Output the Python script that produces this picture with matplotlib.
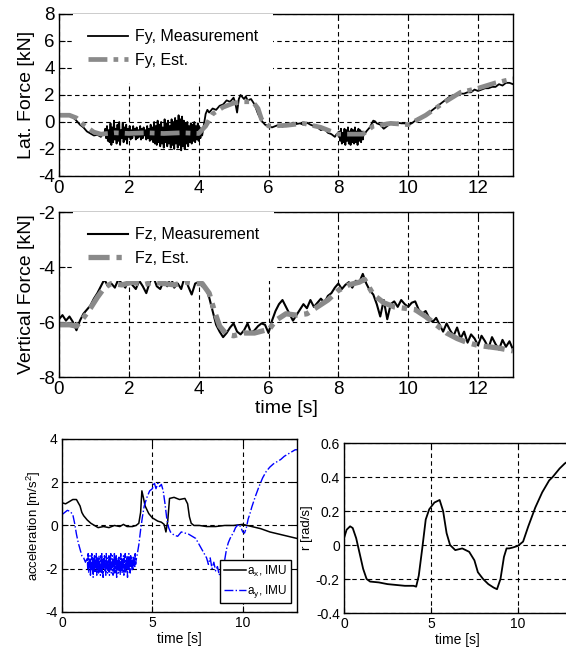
import numpy as np
import matplotlib
matplotlib.use('Agg')
import matplotlib.pyplot as plt
from matplotlib.ticker import FuncFormatter

plt.rcParams['font.family'] = ['Liberation Sans', 'DejaVu Sans']
plt.rcParams['axes.unicode_minus'] = False
plt.rcParams['mathtext.fontset'] = 'custom'
plt.rcParams['mathtext.rm'] = 'Liberation Sans'
plt.rcParams['mathtext.it'] = 'Liberation Sans'

# ---- lateral force, measurement (smooth parts + two noisy bursts sampled every 0.025 s)
fy_t_a = [0, 0.1, 0.2, 0.3, 0.4, 0.5, 0.6, 0.7, 0.8, 0.9, 1.0, 1.1, 1.2, 1.25]
fy_a = [0.5, 0.55, 0.45, 0.5, 0.35, 0.1, -0.2, -0.4, -0.7, -0.85, -1.0, -0.95, -1.1, -0.9]
fy_burst1_start = 1.3
fy_burst1 = [-0.9, -0.5, -1.2, -0.3, -1.4, -0.6, -1.5, -0.1, -1.7, -0.4,
             -1.5, 0.1, -1.3, -0.5, -1.6, -0.2, -1.4, 0.0, -1.7, -0.6,
             -1.2, -0.1, -1.5, -0.4, -1.3, -0.2, -1.6, -0.5, -1.1, -0.3,
             -1.3, -0.6, -1.2, -0.3, -1.0, -0.5, -1.3, -0.4, -1.2, -0.6,
             -1.1, -0.3, -1.3, -0.5, -1.2, -0.4, -1.0, -0.6, -1.3, -0.3,
             -1.2, -0.5, -1.4, -0.2, -1.3, -0.4, -1.5, 0.0, -1.6, -0.3,
             -1.7, 0.1, -1.5, -0.2, -1.8, 0.0, -1.6, -0.4, -1.9, 0.2,
             -1.5, -0.1, -1.8, 0.1, -1.6, -0.3, -1.9, 0.2, -1.7, 0.0,
             -2.0, 0.3, -1.6, 0.1, -1.9, 0.5, -1.7, 0.2, -2.1, 0.4,
             -1.8, 0.1, -2.0, -0.1, -1.6, 0.0, -1.8, -0.3, -1.5, -0.1,
             -1.6, -0.2, -1.4, 0.0, -1.5, -0.3, -1.3, -0.1, -1.4, -0.4,
             -1.2, -0.5, -1.0]
fy_t_b = [4.15, 4.2, 4.25, 4.3, 4.4, 4.5, 4.6, 4.7, 4.8, 4.9, 5.0, 5.05, 5.1, 5.15, 5.2,
          5.3, 5.35, 5.4, 5.5, 5.6, 5.7, 5.8, 5.9, 6.0, 6.1, 6.2, 6.3, 6.4, 6.5, 6.6,
          6.7, 6.8, 6.9, 7.0, 7.1, 7.2, 7.3, 7.4, 7.5, 7.6, 7.7, 7.8, 7.9, 7.95]
fy_b = [-0.2, 0.6, 0.9, 0.7, 1.0, 0.9, 1.2, 1.3, 1.6, 1.5, 1.8, 1.4, 0.7, 1.7, 2.0,
        1.7, 1.9, 1.6, 1.7, 1.3, 0.6, 0.1, -0.2, -0.3, -0.4, -0.3, -0.2, -0.35, -0.2, -0.2,
        -0.05, -0.15, -0.1, -0.2, -0.05, -0.2, -0.3, -0.4, -0.6, -0.5, -0.8, -0.9, -1.1, -0.9]
fy_burst2_start = 8.0
fy_burst2 = [-1.0, -0.7, -1.4, -0.5, -1.6, -0.8, -1.5, -0.5, -1.7, -0.6,
             -1.4, -0.4, -1.6, -0.7, -1.7, -0.5, -1.5, -0.6, -1.6, -0.4,
             -1.5, -0.7, -1.7, -0.5, -1.4, -0.6, -1.5, -0.7, -1.3, -0.8,
             -0.9]
fy_t_c = [8.8, 8.9, 9.0, 9.05, 9.1, 9.2, 9.3, 9.4, 9.5, 9.6, 9.7, 9.8, 9.9, 10.0, 10.1,
          10.2, 10.3, 10.4, 10.5, 10.6, 10.7, 10.8, 10.9, 11.0, 11.1, 11.2, 11.3, 11.4,
          11.5, 11.6, 11.7, 11.8, 11.9, 12.0, 12.1, 12.2, 12.3, 12.4, 12.5, 12.6, 12.7,
          12.8, 12.9, 13.0]
fy_c = [-0.7, -0.4, 0.1, 0.05, -0.1, -0.2, -0.5, -0.3, -0.1, -0.2, -0.05, -0.1, -0.1, -0.2, -0.1,
        0.1, 0.3, 0.3, 0.5, 0.7, 0.9, 1.1, 1.3, 1.5, 1.7, 1.9, 2.0, 2.0,
        2.1, 2.1, 2.2, 2.2, 2.4, 2.3, 2.4, 2.5, 2.5, 2.6, 2.6, 2.8, 2.7,
        2.9, 2.9, 2.8]

# ---- lateral force, estimate
fy_est_t = [0, 0.3, 0.5, 0.7, 1.0, 1.2, 1.6, 2.0, 2.5, 3.0, 3.5, 4.0, 4.2, 4.4, 4.7,
            5.0, 5.3, 5.55, 5.7, 5.8, 6.0, 6.5, 7.0, 7.5, 8.0, 8.4, 8.7, 9.0, 9.5, 10.0,
            10.5, 11.0, 11.5, 12.0, 12.5, 13.0]
fy_est = [0.5, 0.5, 0.3, -0.2, -0.75, -0.9, -0.8, -0.85, -0.8, -0.85, -0.8, -0.85, -0.3, 0.6, 1.1,
          1.4, 1.5, 1.5, 1.0, 0.2, -0.3, -0.25, -0.1, -0.4, -0.9, -0.9, -0.9, -0.3, -0.1, -0.2,
          0.5, 1.4, 2.2, 2.5, 2.9, 3.2]

# ---- vertical force, measurement (every 0.1 s from 0 to 13 s)
fz_step = 0.1
fz_meas = [-5.9, -5.75, -5.95, -5.8, -6.0, -6.3, -5.95, -5.7, -5.55, -5.4,
           -5.15, -4.95, -4.7, -4.45, -4.7, -4.6, -4.75, -4.45, -4.6, -4.75,
           -4.4, -4.65, -4.8, -4.5, -4.7, -4.95, -4.55, -4.35, -4.7, -4.8,
           -4.5, -4.7, -4.35, -4.75, -4.6, -4.8, -4.35, -4.7, -5.0, -4.6,
           -4.55, -4.7, -4.75, -5.1, -5.6, -6.1, -6.35, -6.55, -6.4, -6.2,
           -6.05, -6.35, -6.45, -6.3, -6.05, -6.4, -6.3, -6.15, -6.05, -6.1,
           -6.4, -5.95, -5.6, -5.35, -5.2, -5.45, -5.7, -5.95, -5.75, -5.55,
           -5.35, -5.5, -5.2, -5.45, -5.3, -5.15, -5.3, -5.05, -4.95, -4.75,
           -4.6, -4.8, -4.65, -4.55, -4.75, -4.5, -4.55, -4.25, -4.6, -4.85,
           -5.0, -5.35, -5.8, -5.2, -5.9, -5.35, -5.25, -5.45, -5.2, -5.35,
           -5.45, -5.3, -5.25, -5.55, -5.7, -5.6, -5.85, -6.0, -5.85, -6.1,
           -6.35, -6.05, -6.3, -6.5, -6.2, -6.6, -6.35, -6.75, -6.45, -6.6,
           -6.85, -6.5, -6.7, -6.95, -6.55, -6.8, -7.0, -6.65, -6.9, -6.7,
           -7.0]

# ---- vertical force, estimate
fz_est_t = [0, 0.3, 0.5, 0.7, 0.9, 1.1, 1.3, 1.5, 1.8, 2.1, 2.4, 2.7, 3.0, 3.3, 3.6,
            3.9, 4.1, 4.3, 4.45, 4.6, 4.8, 5.0, 5.3, 5.6, 5.9, 6.0, 6.2, 6.5, 6.8, 7.1,
            7.4, 7.7, 8.0, 8.3, 8.6, 8.75, 9.0, 9.3, 9.6, 9.9, 10.2, 10.5, 10.8, 11.1, 11.4,
            11.7, 12.0, 12.3, 12.6, 13.0]
fz_est = [-6.1, -6.1, -6.15, -5.85, -5.5, -5.1, -4.75, -4.6, -4.65, -4.55, -4.65, -4.55, -4.6, -4.65, -4.55,
          -4.6, -4.6, -4.95, -5.6, -6.15, -6.45, -6.5, -6.4, -6.4, -6.3, -6.3, -5.95, -5.7, -5.75, -5.7,
          -5.45, -5.2, -4.85, -4.65, -4.55, -4.45, -5.0, -5.3, -5.45, -5.5, -5.55, -5.8, -6.1, -6.4, -6.6,
          -6.75, -6.85, -6.9, -6.95, -7.05]

# ---- IMU longitudinal acceleration
ax_t = [0, 0.2, 0.4, 0.6, 0.8, 0.9, 1.0, 1.1, 1.2, 1.4, 1.6, 1.8, 2.0, 2.3, 2.6,
        2.9, 3.2, 3.4, 3.6, 3.9, 4.1, 4.25, 4.35, 4.42, 4.5, 4.6, 4.8, 5.0, 5.3, 5.5,
        5.65, 5.75, 5.85, 5.95, 6.2, 6.5, 6.8, 6.95, 7.05, 7.15, 7.3, 7.6, 8.0, 8.5, 9.0,
        9.5, 10.0, 10.5, 11.0, 11.5, 12.0, 12.5, 13.0]
ax_imu = [1.05, 1.0, 1.1, 1.2, 1.2, 1.05, 0.9, 0.6, 0.45, 0.25, 0.1, 0.0, -0.1, -0.05, -0.1,
          0.0, -0.05, 0.05, -0.05, -0.05, 0.0, 0.1, 0.6, 1.6, 1.3, 0.9, 0.55, 0.35, 0.2, 0.15,
          0.05, -0.3, 0.2, 1.25, 1.3, 1.2, 1.25, 1.0, 0.4, 0.1, 0.0, 0.0, -0.05, -0.05, 0.0,
          0.0, 0.05, -0.05, -0.15, -0.3, -0.4, -0.5, -0.6]

# ---- IMU lateral acceleration
ay_t_a = [0, 0.15, 0.3, 0.45, 0.6, 0.7, 0.8, 0.9, 1.0, 1.1, 1.2, 1.3]
ay_a = [0.5, 0.6, 0.7, 0.65, 0.5, 0.1, -0.4, -0.8, -1.1, -1.4, -1.5, -1.7]
ay_burst_start = 1.4
ay_burst = [-1.5, -2.0, -1.3, -2.2, -1.6, -1.9, -1.4, -2.3, -1.7, -2.0,
            -1.3, -2.1, -1.5, -2.4, -1.6, -2.0, -1.4, -2.2, -1.7, -1.9,
            -1.3, -2.3, -1.5, -2.0, -1.6, -2.2, -1.4, -2.1, -1.8, -2.3,
            -1.4, -2.0, -1.3, -2.2, -1.6, -2.4, -1.5, -1.9, -1.4, -2.1,
            -1.7, -2.3, -1.3, -2.0, -1.5, -2.2, -1.6, -2.1, -1.4, -2.3,
            -1.5, -1.9, -1.3, -2.2, -1.7, -2.0, -1.4, -2.3, -1.6, -2.1,
            -1.3, -2.2, -1.5, -2.0, -1.4, -2.4, -1.6, -1.9, -1.5, -2.2,
            -1.4, -2.1, -1.6, -2.3, -1.3, -2.0, -1.5, -2.2, -1.7, -1.9,
            -1.4, -2.3, -1.5, -2.1, -1.3, -2.2, -1.6, -2.0, -1.4, -2.4,
            -1.5, -2.1, -1.3, -2.0, -1.6, -2.2, -1.4, -1.9, -1.5, -2.1,
            -1.6, -2.0, -1.4, -1.8, -1.5, -1.9, -1.3, -1.8, -1.6]
ay_t_b = [4.15, 4.25, 4.35, 4.45, 4.55, 4.7, 4.85, 5.0, 5.1, 5.2,
          5.3, 5.4, 5.5, 5.6, 5.7, 5.8, 5.9, 6.0, 6.2, 6.4,
          6.6, 6.8, 7.0, 7.2, 7.4, 7.6, 7.8, 8.0, 8.1, 8.2,
          8.3, 8.4, 8.5, 8.6, 8.7, 8.8, 8.9, 9.0, 9.1, 9.2,
          9.3, 9.4, 9.5, 9.6, 9.7, 9.8, 9.9, 10.0, 10.1, 10.2,
          10.3, 10.4, 10.5, 10.7, 10.9, 11.1, 11.3, 11.5, 11.7, 11.9,
          12.1, 12.3, 12.5, 12.7, 12.9, 13.0]
ay_b = [-1.4, -0.9, -0.2, 0.4, 0.9, 1.3, 1.6, 1.7, 2.0, 1.7,
        1.95, 1.8, 1.9, 1.6, 1.0, 0.3, -0.1, -0.3, -0.45, -0.5,
        -0.3, -0.35, -0.4, -0.5, -0.6, -0.9, -1.2, -1.5, -1.8, -1.5,
        -2.0, -1.7, -2.1, -1.9, -2.3, -2.0, -2.4, -1.6, -1.1, -0.8,
        -0.6, -0.45, -0.3, -0.1, 0.0, 0.05, -0.1, -0.3, -0.35, -0.1,
        0.3, 0.55, 0.85, 1.35, 1.8, 2.2, 2.5, 2.7, 2.85, 2.95,
        3.05, 3.2, 3.3, 3.4, 3.5, 3.5]

# ---- yaw rate
r_t = [0, 0.15, 0.35, 0.5, 0.7, 0.9, 1.1, 1.3, 1.5, 2.0, 2.5, 3.0, 3.5, 4.0, 4.15,
       4.3, 4.5, 4.7, 4.9, 5.2, 5.5, 5.7, 5.9, 6.1, 6.4, 6.8, 7.2, 7.5, 7.7, 8.0,
       8.3, 8.6, 8.8, 9.0, 9.2, 9.35, 9.5, 9.7, 10.0, 10.3, 10.6, 11.0, 11.4, 11.8, 12.0,
       12.4, 12.7, 13.0]
r_imu = [0.04, 0.09, 0.11, 0.1, 0.04, -0.05, -0.14, -0.2, -0.215, -0.22, -0.23, -0.235, -0.24, -0.24, -0.245,
         -0.18, -0.02, 0.15, 0.21, 0.25, 0.265, 0.2, 0.07, 0.0, -0.03, -0.02, -0.04, -0.09, -0.16, -0.2,
         -0.23, -0.25, -0.26, -0.2, -0.07, -0.02, -0.02, -0.015, -0.005, 0.02, 0.11, 0.22, 0.31, 0.38, 0.4,
         0.45, 0.48, 0.5]


def burst_time(start, vals, step=0.025):
    return start + step * np.arange(len(vals))


def style(ax, size):
    ax.set_xlim(0, 13)
    ax.grid(True, color='k', linestyle=(0, (4, 3)), linewidth=0.8)
    ax.set_axisbelow(True)
    ax.tick_params(direction='in', top=True, right=True, labelsize=size, length=4, pad=3)
    for s in ax.spines.values():
        s.set_linewidth(1.0)
    ax.yaxis.set_major_formatter(FuncFormatter(lambda v, p: f"{v:g}"))


def force_legend(ax):
    ax.legend(loc='upper left', bbox_to_anchor=(0.03, 1.0), borderaxespad=0, fontsize=11.5,
              frameon=True, facecolor='white', edgecolor='none', framealpha=1,
              handlelength=2.5, handletextpad=0.45, labelspacing=0.55, borderpad=0.95,
              fancybox=False)


fig = plt.figure(figsize=(5.66, 6.48), dpi=100)
gray = '#8a8a8a'

# top: lateral force
a1 = fig.add_axes([0.1042, 0.7284, 0.8021, 0.2500])
fy_t = np.concatenate([fy_t_a, burst_time(fy_burst1_start, fy_burst1), fy_t_b,
                       burst_time(fy_burst2_start, fy_burst2), fy_t_c])
fy_meas = np.concatenate([fy_a, fy_burst1, fy_b, fy_burst2, fy_c])
a1.plot(fy_t, fy_meas, color='k', lw=1.3, label='Fy, Measurement')
a1.plot(fy_est_t, fy_est, color=gray, lw=3.4, linestyle=(0, (4, 1.3, 1, 1.3)), label='Fy, Est.')
a1.set_ylim(-4, 8)
a1.set_yticks(range(-4, 9, 2))
a1.set_xticks(range(0, 13, 2))
style(a1, 13.5)
a1.set_ylabel('Lat. Force [kN]', fontsize=14, labelpad=2)
force_legend(a1)

# middle: vertical force
a2 = fig.add_axes([0.1042, 0.4182, 0.8021, 0.2546])
fz_t = fz_step * np.arange(len(fz_meas))
a2.plot(fz_t, fz_meas, color='k', lw=1.5, label='Fz, Measurement')
a2.plot(fz_est_t, fz_est, color=gray, lw=3.8, linestyle=(0, (4, 1.3, 1, 1.3)), label='Fz, Est.')
a2.set_ylim(-8, -2)
a2.set_yticks(range(-8, -1, 2))
a2.set_xticks(range(0, 13, 2))
style(a2, 13.5)
a2.set_ylabel('Vertical Force [kN]', fontsize=14, labelpad=2)
a2.set_xlabel('time [s]', fontsize=14, labelpad=1)
force_legend(a2)

# bottom left: accelerations
a3 = fig.add_axes([0.1095, 0.0556, 0.4152, 0.2670])
ay_t = np.concatenate([ay_t_a, burst_time(ay_burst_start, ay_burst), ay_t_b])
ay_imu = np.concatenate([ay_a, ay_burst, ay_b])
a3.plot(ax_t, ax_imu, color='k', lw=1.1, label='a$_x$, IMU')
a3.plot(ay_t, ay_imu, color='#0000ff', lw=1.0, linestyle='-.', label='a$_y$, IMU')
a3.set_ylim(-4, 4)
a3.set_yticks(range(-4, 5, 2))
a3.set_xticks([0, 5, 10])
style(a3, 10)
a3.set_ylabel('acceleration [m/s$^2$]', fontsize=9.5, labelpad=2)
a3.set_xlabel('time [s]', fontsize=10, labelpad=1)
a3.legend(loc='lower right', bbox_to_anchor=(0.975, 0.05), borderaxespad=0, fontsize=8.5,
          frameon=True, facecolor='white', edgecolor='k', framealpha=1, fancybox=False,
          handlelength=1.9, handletextpad=0.1, labelspacing=0.35, borderpad=0.3)

# bottom right: yaw rate
a4 = fig.add_axes([0.6078, 0.0540, 0.3993, 0.2623])
a4.plot(r_t, r_imu, color='k', lw=1.3)
a4.set_ylim(-0.4, 0.6)
a4.set_yticks([-0.4, -0.2, 0, 0.2, 0.4, 0.6])
a4.set_xticks([0, 5, 10])
style(a4, 10)
a4.set_ylabel('r [rad/s]', fontsize=9.5, labelpad=2)
a4.set_xlabel('time [s]', fontsize=10, labelpad=1)

fig.savefig('out.png', dpi=100)
